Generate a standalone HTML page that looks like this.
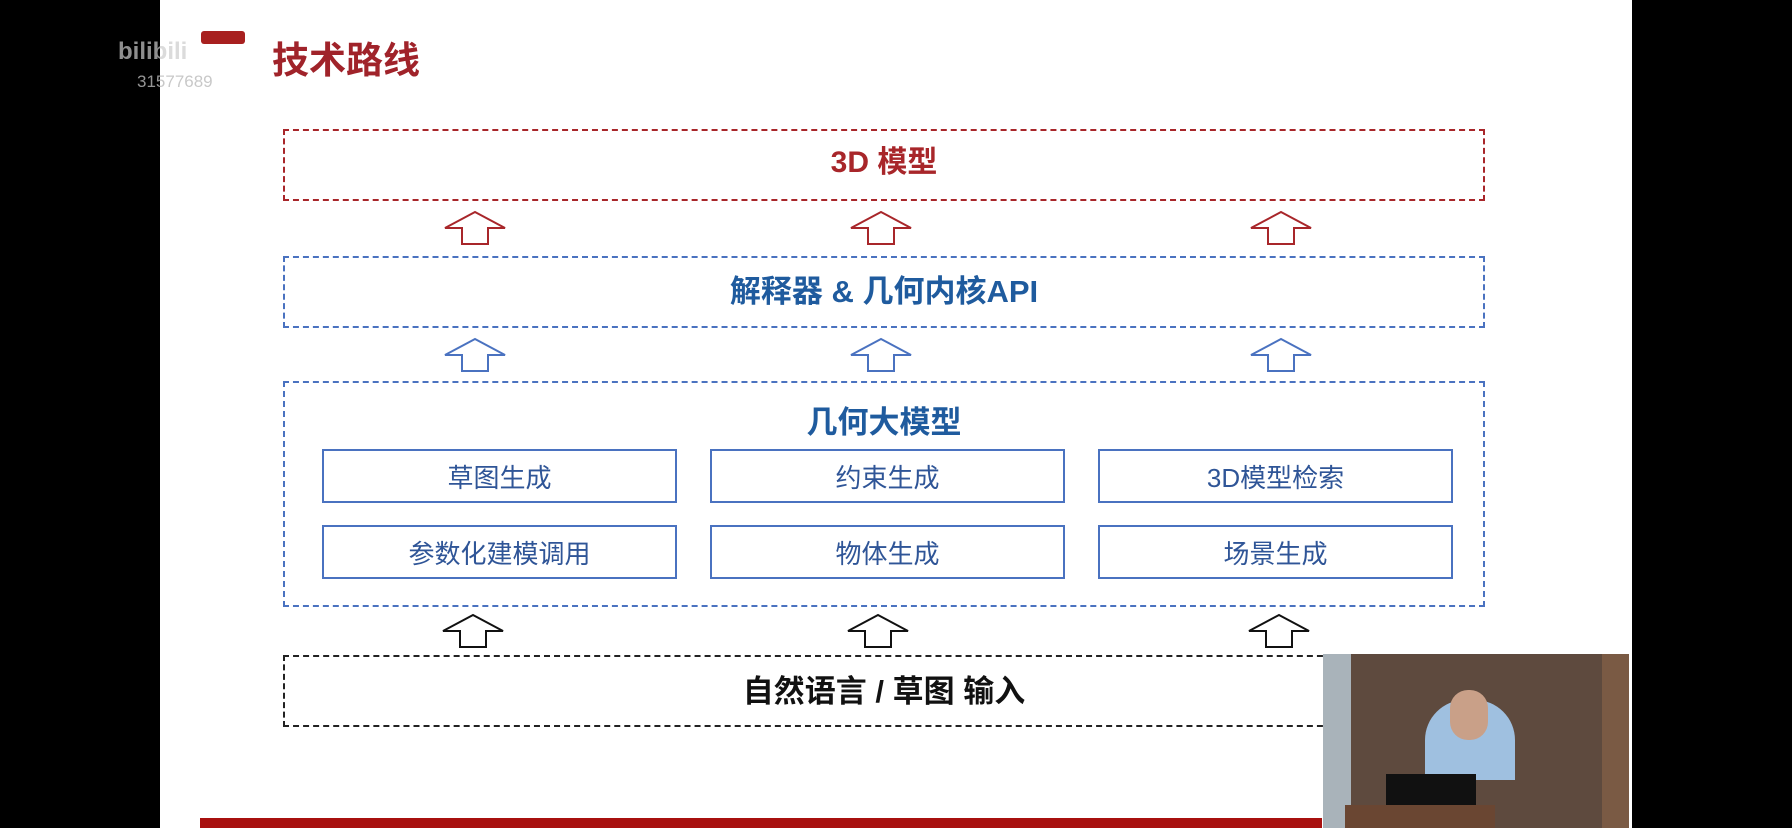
<!DOCTYPE html>
<html><head><meta charset="utf-8"><style>
html,body{margin:0;padding:0}
body{width:1792px;height:828px;background:#000;position:relative;overflow:hidden;font-family:"Liberation Sans","Noto Sans CJK SC",sans-serif}
.slide{position:absolute;left:160px;top:0;width:1472px;height:828px;background:#fff}
.a{position:absolute}
.box{position:absolute;box-sizing:border-box}
.t{position:absolute;text-align:center;white-space:nowrap}
.inner{position:absolute;box-sizing:border-box;border:2px solid #4a72c0;color:#2f5597;font-size:26px;display:flex;align-items:center;justify-content:center;width:355px;height:54px}
</style></head><body>
<div class="slide"></div>
<div class="a" style="left:201px;top:31px;width:44px;height:13px;background:#a8201f;border-radius:3px"></div>
<div class="t" style="left:272px;top:30px;font-size:37px;font-weight:bold;color:#a0232a">技术路线</div>
<div class="t" style="left:118px;top:38px;font-size:24px;font-weight:bold;color:#ccc;opacity:.7">bilibili</div>
<div class="t" style="left:137px;top:72px;font-size:17px;color:#bbb;opacity:.8">31577689</div>

<div class="box" style="left:283px;top:129px;width:1202px;height:72px;border:2px dashed #a8262a"></div>
<div class="t" style="left:283px;width:1202px;top:137px;font-size:30px;font-weight:bold;color:#a8262a">3D 模型</div>

<div class="box" style="left:283px;top:256px;width:1202px;height:72px;border:2px dashed #4a72c0"></div>
<div class="t" style="left:283px;width:1202px;top:266px;font-size:31px;font-weight:bold;color:#1f5b9e">解释器 &amp; 几何内核API</div>

<div class="box" style="left:283px;top:381px;width:1202px;height:226px;border:2px dashed #4a72c0"></div>
<div class="t" style="left:283px;width:1202px;top:397px;font-size:31px;font-weight:bold;color:#1f5b9e">几何大模型</div>

<div class="inner" style="left:322px;top:449px">草图生成</div>
<div class="inner" style="left:710px;top:449px">约束生成</div>
<div class="inner" style="left:1098px;top:449px">3D模型检索</div>
<div class="inner" style="left:322px;top:525px">参数化建模调用</div>
<div class="inner" style="left:710px;top:525px">物体生成</div>
<div class="inner" style="left:1098px;top:525px">场景生成</div>

<div class="box" style="left:283px;top:655px;width:1060px;height:72px;border:2px dashed #222;border-right:none"></div>
<div class="t" style="left:283px;width:1202px;top:666px;font-size:31px;font-weight:bold;color:#111">自然语言 / 草图 输入</div>

<svg class="a" style="left:0;top:0" width="1792" height="828">
<defs>
<g id="ar"><polygon points="0,-15 -30,1 -13,1 -13,17 13,17 13,1 30,1" fill="#fff" stroke-width="2"/></g>
</defs>
<g stroke="#a8262a"><use href="#ar" x="475" y="227"/><use href="#ar" x="881" y="227"/><use href="#ar" x="1281" y="227"/></g>
<g stroke="#4a72c0"><use href="#ar" x="475" y="354"/><use href="#ar" x="881" y="354"/><use href="#ar" x="1281" y="354"/></g>
<g stroke="#111"><use href="#ar" x="473" y="630"/><use href="#ar" x="878" y="630"/><use href="#ar" x="1279" y="630"/></g>
</svg>

<div class="a" style="left:200px;top:818px;width:1122px;height:10px;background:#a8100f"></div>
<div class="a" style="left:1323px;top:654px;width:306px;height:174px;background:#5e4a3e"></div>
<div class="a" style="left:1323px;top:654px;width:28px;height:174px;background:#a9b3ba"></div>
<div class="a" style="left:1602px;top:654px;width:27px;height:174px;background:#7a5a44"></div>
<div class="a" style="left:1425px;top:700px;width:90px;height:80px;border-radius:40px 40px 0 0;background:#9fc0e0"></div>
<div class="a" style="left:1450px;top:690px;width:38px;height:50px;border-radius:18px;background:#c9a088"></div>
<div class="a" style="left:1386px;top:774px;width:90px;height:34px;background:#111"></div>
<div class="a" style="left:1345px;top:805px;width:150px;height:23px;background:#6a4632"></div>
</body></html>
